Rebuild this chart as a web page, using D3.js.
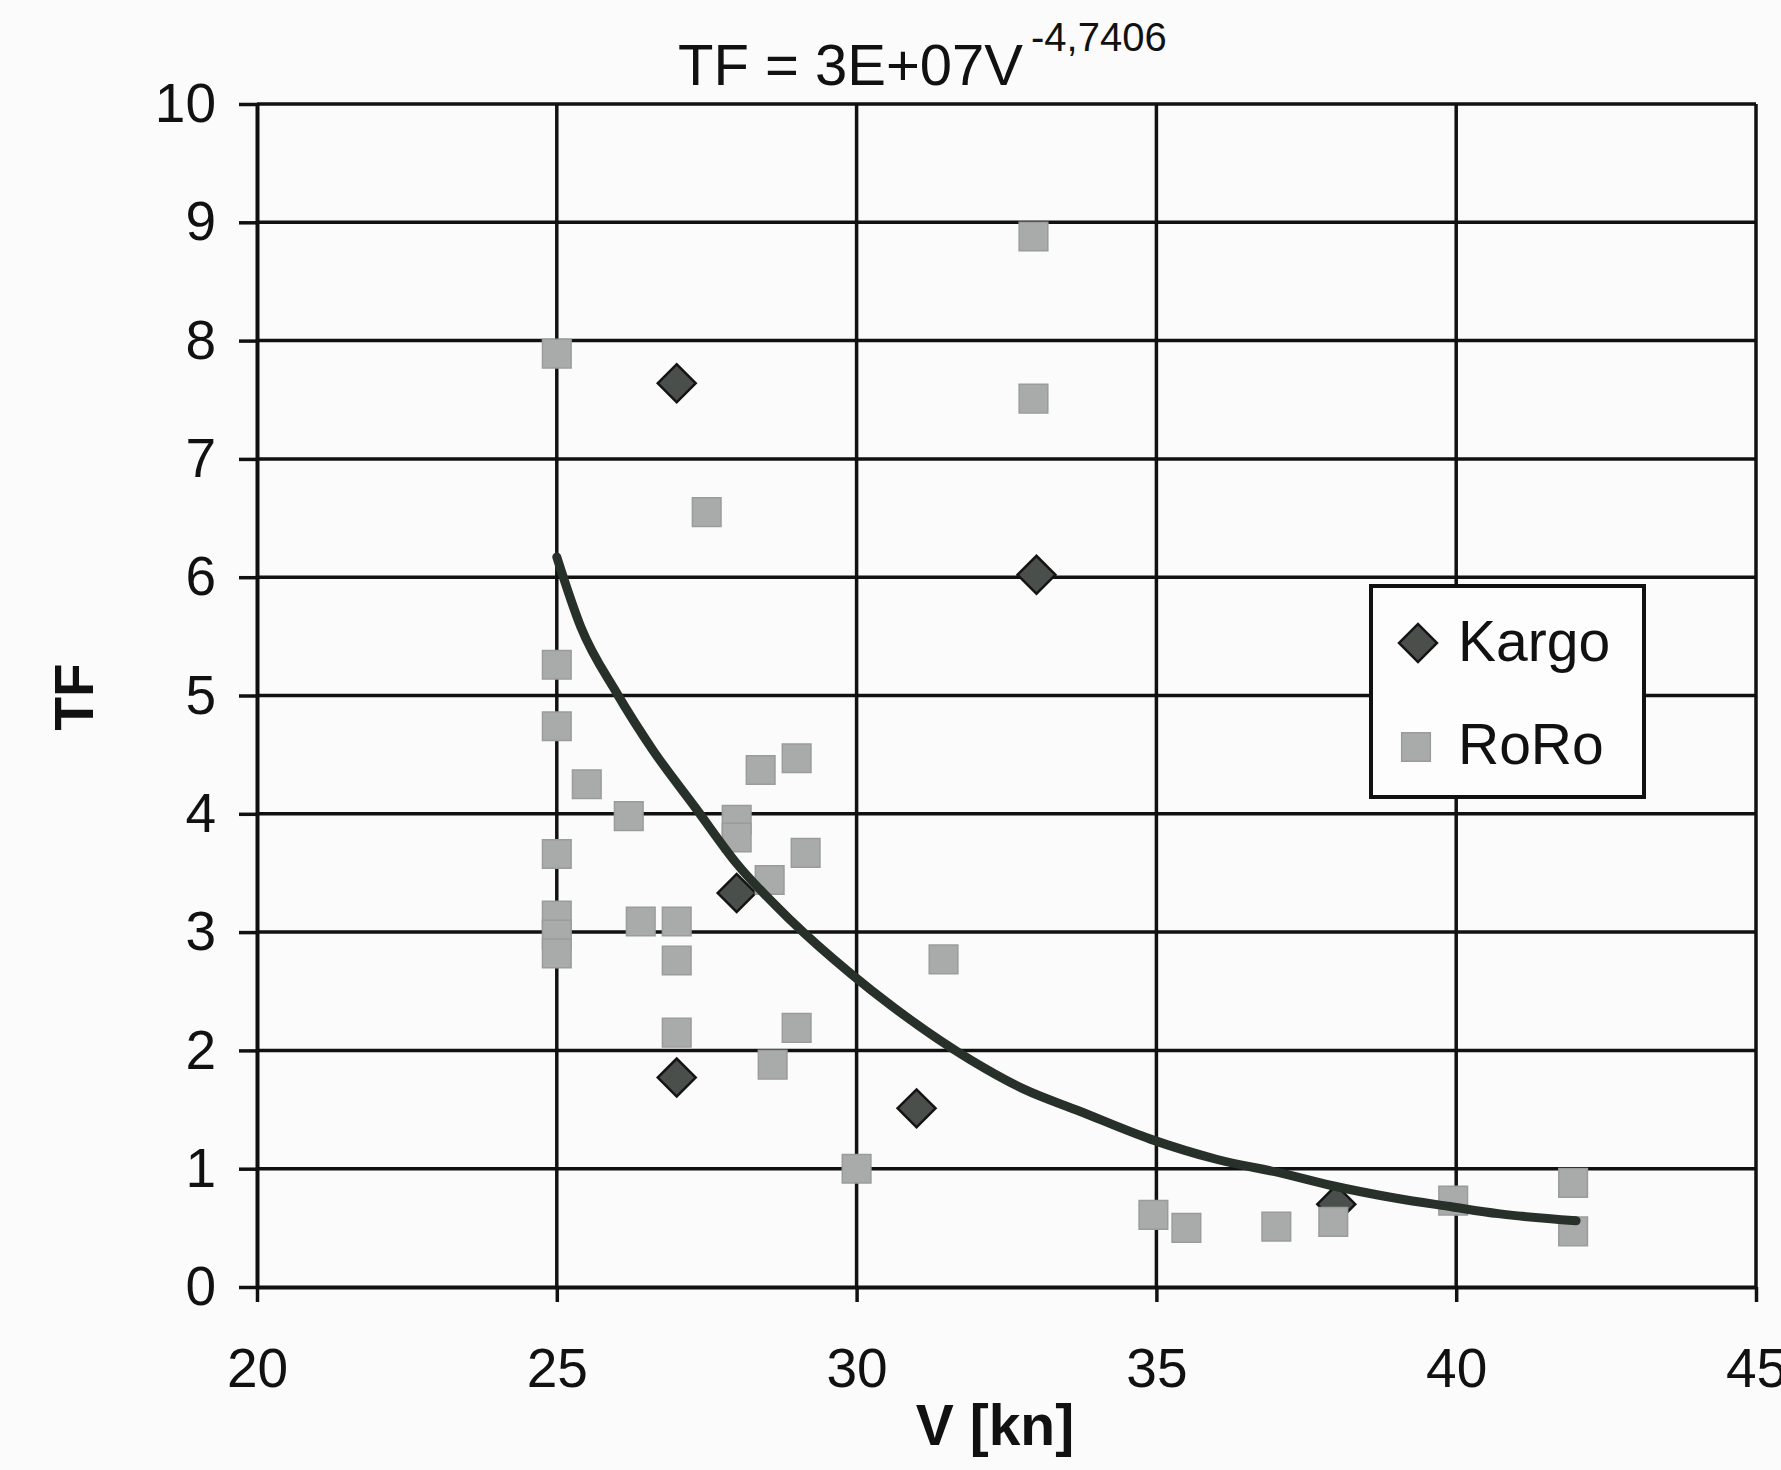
<!DOCTYPE html>
<html>
<head>
<meta charset="utf-8">
<script src="https://cdn.jsdelivr.net/npm/d3@7"></script>
<style>
  body { margin: 0; background: #fbfbfc; }
  svg { display: block; font-family: "Liberation Sans", Arial, sans-serif; }
</style>
</head>
<body>
<div class="chart"></div>
<script>
  // chart data
  var kargoV  = [27.0, 33.0, 28.0, 27.0, 31.0, 38.0];
  var kargoTF = [7.64, 6.02, 3.33, 1.77, 1.51, 0.70];

  var roroV  = [25.0, 32.95, 32.95, 27.5, 25.0, 25.0, 25.5, 26.2, 25.0, 25.0, 25.0, 25.0,
                26.4, 27.0, 27.0, 27.0, 28.4, 29.0, 28.0, 28.0, 28.55, 29.15, 31.45, 29.0,
                28.6, 30.0, 34.95, 35.5, 37.0, 37.95, 39.95, 41.95, 41.95];
  var roroTF = [7.89, 8.88, 7.51, 6.55, 5.26, 4.74, 4.25, 3.98, 3.66, 3.14, 2.98, 2.82,
                3.09, 3.09, 2.76, 2.15, 4.37, 4.47, 3.95, 3.80, 3.44, 3.67, 2.77, 2.19,
                1.88, 1.00, 0.61, 0.50, 0.51, 0.55, 0.73, 0.88, 0.47];

  // power trendline
  var trendV  = [25.0, 25.4, 26.0, 26.6, 27.3, 28.0, 28.9, 29.9, 30.6, 31.9,
                 32.8, 33.7, 34.9, 36.0, 37.1, 37.9, 39.0, 39.9, 40.7, 42.0];
  var trendTF = [6.17, 5.58, 5.02, 4.54, 4.06, 3.58, 3.10, 2.65, 2.37, 1.92,
                 1.67, 1.49, 1.25, 1.08, 0.96, 0.86, 0.75, 0.68, 0.62, 0.56];

  var xTicks = [20, 25, 30, 35, 40, 45];
  var yTicks = [0, 1, 2, 3, 4, 5, 6, 7, 8, 9, 10];
  var seriesNames = ['Kargo', 'RoRo'];

  var width = 1781;
  var height = 1470;
  // plot area edges (window.top is reserved, so prefix them)
  var plotLeft = 257, plotRight = 1756, plotTop = 104, plotBottom = 1287;

  var svg = d3.select('.chart')
    .append('svg')
    .attr('width', width)
    .attr('height', height);

  svg.append('rect')
    .attr('width', width)
    .attr('height', height)
    .attr('fill', '#fbfbfc');

  var x = d3.scaleLinear().domain([20, 45]).range([plotLeft, plotRight]);
  var y = d3.scaleLinear().domain([0, 10]).range([plotBottom, plotTop]);

  // gridlines
  svg.append('g').selectAll('line')
    .data(yTicks.filter(function(d){ return d > 0 }))
    .enter().append('line')
    .attr('x1', plotLeft).attr('x2', plotRight)
    .attr('y1', function(d){ return y(d) })
    .attr('y2', function(d){ return y(d) })
    .attr('stroke', '#111')
    .attr('stroke-width', 3.5);

  svg.append('g').selectAll('line')
    .data(xTicks.filter(function(d){ return d > 20 }))
    .enter().append('line')
    .attr('y1', plotTop).attr('y2', plotBottom)
    .attr('x1', function(d){ return x(d) })
    .attr('x2', function(d){ return x(d) })
    .attr('stroke', '#111')
    .attr('stroke-width', 3.5);

  // axes
  var xAxis = svg.append('g')
    .attr('transform', 'translate(0,' + plotBottom + ')')
    .call(d3.axisBottom(x).tickValues(xTicks).tickSize(15).tickSizeOuter(0).tickPadding(46));

  var yAxis = svg.append('g')
    .attr('transform', 'translate(' + plotLeft + ',0)')
    .call(d3.axisLeft(y).tickValues(yTicks).tickSize(18).tickSizeOuter(0).tickPadding(23));

  [xAxis, yAxis].forEach(function(a){
    a.select('.domain').attr('stroke', '#111').attr('stroke-width', 4);
    a.selectAll('.tick line').attr('stroke', '#111').attr('stroke-width', 3.5);
    a.selectAll('.tick text')
      .attr('fill', '#111')
      .style('font-size', '55px')
      .style('font-family', '"Liberation Sans", Arial, sans-serif');
  });

  // markers
  var diamond = d3.symbol().type(d3.symbolSquare).size(720);
  var square = d3.symbol().type(d3.symbolSquare).size(820);

  svg.append('g').selectAll('path')
    .data(kargoV)
    .enter().append('path')
    .attr('d', diamond)
    .attr('transform', function(d, i){
      return 'translate(' + x(d) + ',' + y(kargoTF[i]) + ') rotate(45)'
    })
    .attr('fill', '#4b4f4c')
    .attr('stroke', '#141414')
    .attr('stroke-width', 2.5);

  svg.append('g').selectAll('path')
    .data(roroV)
    .enter().append('path')
    .attr('d', square)
    .attr('transform', function(d, i){
      return 'translate(' + x(d) + ',' + y(roroTF[i]) + ')'
    })
    .attr('fill', '#a9abab')
    .attr('stroke', '#9a9c9c')
    .attr('stroke-width', 1.5);

  // trendline
  var line = d3.line()
    .x(function(d){ return x(d) })
    .y(function(d, i){ return y(trendTF[i]) })
    .curve(d3.curveMonotoneX);

  svg.append('path')
    .datum(trendV)
    .attr('d', line)
    .attr('fill', 'none')
    .attr('stroke', '#28302a')
    .attr('stroke-width', 9)
    .attr('stroke-linecap', 'round')
    .attr('stroke-linejoin', 'round');

  // title with exponent
  var title = svg.append('text')
    .attr('x', 678)
    .attr('y', 85)
    .attr('fill', '#111')
    .style('font-size', '58px');
  title.append('tspan').text('TF = 3E+07V');
  title.append('tspan')
    .attr('dx', 8)
    .attr('dy', -34)
    .style('font-size', '40px')
    .text('-4,7406');

  // axis titles
  svg.append('text')
    .attr('x', 995)
    .attr('y', 1445)
    .attr('text-anchor', 'middle')
    .attr('fill', '#111')
    .style('font-size', '57px')
    .style('font-weight', 'bold')
    .text('V [kn]');

  svg.append('text')
    .attr('transform', 'translate(93,697) rotate(-90)')
    .attr('text-anchor', 'middle')
    .attr('fill', '#111')
    .style('font-size', '55px')
    .style('font-weight', 'bold')
    .text('TF');

  // legend
  var legend = svg.append('g');
  legend.append('rect')
    .attr('x', 1371).attr('y', 586)
    .attr('width', 273).attr('height', 211)
    .attr('fill', '#fdfdfd')
    .attr('stroke', '#111')
    .attr('stroke-width', 4);

  legend.append('path')
    .attr('d', diamond)
    .attr('transform', 'translate(1418,643) rotate(45)')
    .attr('fill', '#4b4f4c')
    .attr('stroke', '#141414')
    .attr('stroke-width', 2.5);

  legend.append('path')
    .attr('d', square)
    .attr('transform', 'translate(1416,747)')
    .attr('fill', '#a9abab')
    .attr('stroke', '#9a9c9c')
    .attr('stroke-width', 1.5);

  legend.selectAll('text')
    .data(seriesNames)
    .enter().append('text')
    .attr('x', 1458)
    .attr('y', function(d, i){ return 661 + i * 103 })
    .attr('fill', '#111')
    .style('font-size', '57px')
    .text(function(d){ return d });
</script>
</body>
</html>
